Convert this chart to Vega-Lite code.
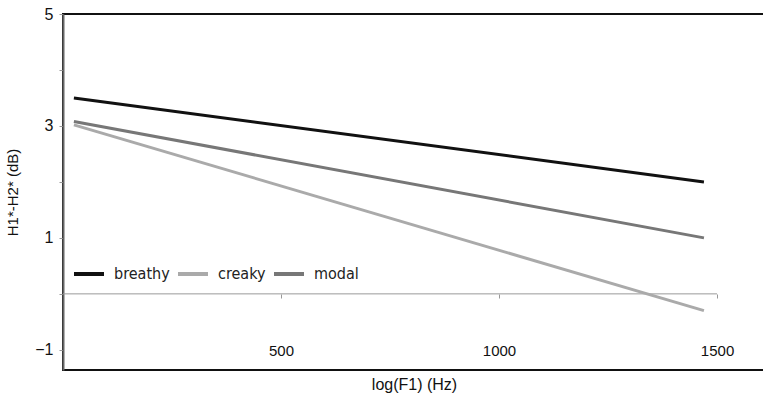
{
  "$schema": "https://vega.github.io/schema/vega-lite/v6.json",
  "width": 702,
  "height": 356,
  "autosize": {"type": "none"},
  "padding": {"left": 63, "top": 14, "right": 0, "bottom": 33},
  "config": {
    "view": {"stroke": "#111", "strokeWidth": 2},
    "font": "Liberation Sans"
  },
  "datasets": {
    "lines": [
      {"phonation": "breathy", "f1": 25, "h": 3.5},
      {"phonation": "breathy", "f1": 1470, "h": 2.0},
      {"phonation": "creaky", "f1": 25, "h": 3.02},
      {"phonation": "creaky", "f1": 1470, "h": -0.3},
      {"phonation": "modal", "f1": 25, "h": 3.08},
      {"phonation": "modal", "f1": 1470, "h": 1.0}
    ],
    "zero": [{"x": 0, "x2": 1500, "y": 0}]
  },
  "layer": [
    {
      "data": {"name": "zero"},
      "mark": {"type": "rule", "color": "#999", "strokeWidth": 1},
      "encoding": {
        "x": {
          "field": "x", "type": "quantitative",
          "scale": {"domain": [0, 1610], "nice": false, "zero": false},
          "axis": {
            "orient": "bottom", "offset": -76, "domain": false, "grid": false,
            "values": [500, 1000, 1500], "format": "d", "tickSize": 4, "tickColor": "#999",
            "labelFontSize": 15, "labelColor": "#111", "labelPadding": 45,
            "title": "log(F1) (Hz)", "titleFontSize": 16, "titleFontWeight": "normal",
            "titleColor": "#111", "titlePadding": 18
          }
        },
        "x2": {"field": "x2"},
        "y": {
          "field": "y", "type": "quantitative",
          "scale": {"domain": [-1.36, 5], "nice": false, "zero": false},
          "axis": {
            "values": [-1, 0, 1, 2, 3, 4, 5], "format": "d", "grid": false,
            "labelExpr": "abs(datum.value) % 2 == 1 ? datum.label : ''",
            "tickSize": 4, "tickColor": "#999", "domainColor": "#666", "domainWidth": 2,
            "labelFontSize": 16, "labelColor": "#111", "labelPadding": 6,
            "title": "H1*-H2* (dB)", "titleFontSize": 15, "titleFontWeight": "normal",
            "titleColor": "#111", "titlePadding": 14
          }
        }
      }
    },
    {
      "data": {"name": "lines"},
      "mark": {"type": "line", "strokeWidth": 3},
      "encoding": {
        "x": {"field": "f1", "type": "quantitative"},
        "y": {"field": "h", "type": "quantitative"},
        "color": {
          "field": "phonation", "type": "nominal",
          "scale": {"domain": ["breathy", "creaky", "modal"], "range": ["#111111", "#aaaaaa", "#777777"]},
          "legend": {
            "orient": "none", "legendX": 9, "legendY": 243, "direction": "horizontal",
            "title": null, "symbolType": "stroke", "symbolStrokeWidth": 4, "symbolSize": 900,
            "labelFont": "DejaVu Sans Condensed, Open Sans, sans-serif", "labelFontSize": 16, "labelColor": "#222",
            "labelOffset": 8, "columnPadding": 0
          }
        }
      }
    }
  ]
}
